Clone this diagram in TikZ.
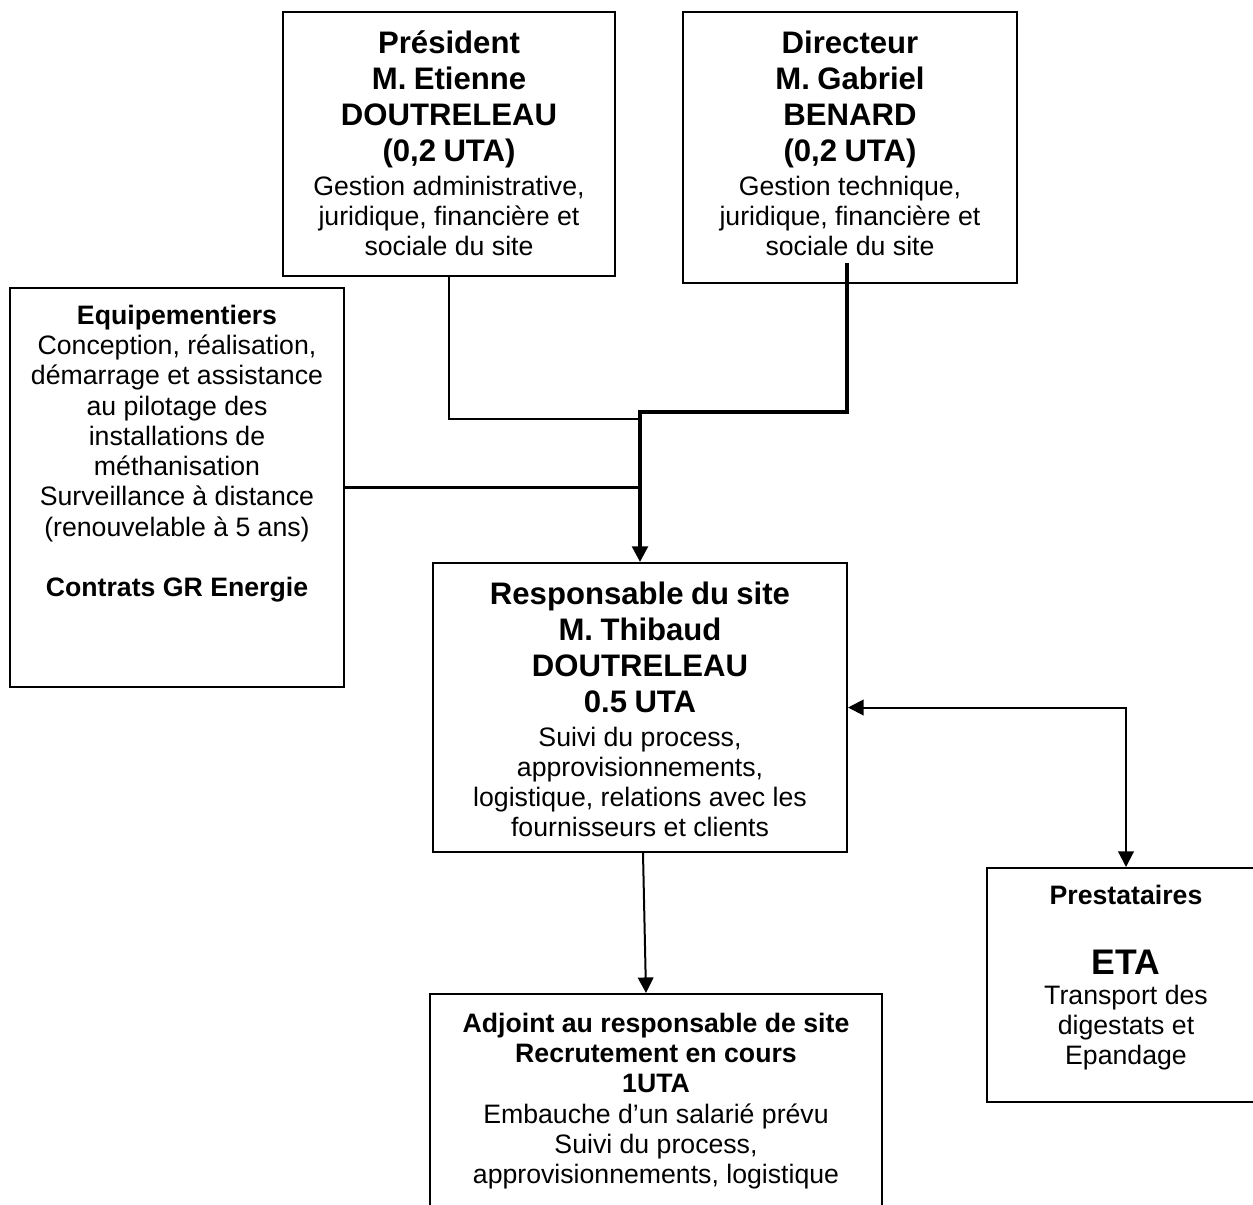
\documentclass[tikz,border=0pt]{standalone}
\usepackage{fontspec}
\setmainfont{Liberation Sans}
\usetikzlibrary{arrows.meta,fit,calc}
\newcommand\bigb{\fontsize{14}{16.2}\selectfont\bfseries}
\newcommand\nrm{\fontsize{12}{13.6}\selectfont}
\newcommand\fst{\rule{0pt}{20pt}}
\begin{document}
\begin{tikzpicture}[x=0.45pt,y=-0.45pt,
  box/.style={draw, line width=0.9pt, inner sep=0pt},
  txt/.style={anchor=north, inner sep=0pt, align=center, text width=200pt},
  tip/.style={-{Triangle[length=7pt,width=7pt]}},
  both/.style={{Triangle[length=7pt,width=7pt]}-{Triangle[length=7pt,width=7pt]}}]
\useasboundingbox (0,0) rectangle (1253,1205);
\fill[white] (0,0) rectangle (1253,1205);
\clip (0,0) rectangle (1253,1205);

% boxes
\node[box, fit={(283,12) (615,276)}] (pres) {};
\node[box, fit={(683,12) (1017,283)}] (dir) {};
\node[box, fit={(10,288) (344,687)}] (equip) {};
\node[box, fit={(433,563) (847,852)}] (resp) {};
\node[box, fit={(987,868) (1265,1102)}] (prest) {};
\node[box, fit={(430,994) (882,1240)}] (adj) {};

% texts
\node[txt] (prestxt) at (449,8.6) {{\bigb\fst Président\\ M. Etienne\\ DOUTRELEAU\\ (0,2 UTA)\par}\vspace{1.6pt}
{\nrm Gestion administrative,\\ juridique, financière et\\ sociale du site\par}};

\node[txt] (dirtxt) at (850,8.6) {{\bigb\fst Directeur\\ M. Gabriel\\ BENARD\\ (0,2 UTA)\par}\vspace{1.6pt}
{\nrm Gestion technique,\\ juridique, financière et\\ sociale du site\par}};

\node[txt] (equiptxt) at (177,279.6) {{\nrm\fst\textbf{Equipementiers}\\ Conception, réalisation,\\ démarrage et assistance\\ au pilotage des\\ installations de\\ méthanisation\\ Surveillance à distance\\ (renouvelable à 5 ans)\\[13.6pt] \textbf{Contrats GR Energie}\par}};

\node[txt] (resptxt) at (640,559.6) {{\bigb\fst Responsable du site\\ M. Thibaud\\ DOUTRELEAU\\ 0.5 UTA\par}\vspace{1.6pt}
{\nrm Suivi du process,\\ approvisionnements,\\ logistique, relations avec les\\ fournisseurs et clients\par}};

\node[txt] (presttxt) at (1126,859.6) {{\nrm\fst\textbf{Prestataires}\par}\vspace{13.5pt}
{\fontsize{16}{18}\selectfont\bfseries ETA\par}\vspace{0.4pt}
{\fontsize{12}{13.3}\selectfont Transport des\\ digestats et\\ Epandage\par}};

\node[txt] (adjtxt) at (656,987.6) {{\nrm\fst\textbf{Adjoint au responsable de site}\\ \textbf{Recrutement en cours}\\ \textbf{1UTA}\\ Embauche d’un salarié prévu\\ Suivi du process,\\ approvisionnements, logistique\par}};

% connectors
\coordinate (j1) at (640,419);
\coordinate (j2) at (640,412);
\coordinate (d0) at ($(dir.south)+(-3,-21)$);
\draw[line width=0.6pt] (pres.south) |- (j1);
\draw[line width=1.5pt, tip] (d0) |- (j2) -- (resp.north);
\draw[line width=1pt] (equip.east) -- (equip.east -| resp.north);
\draw[line width=0.9pt, tip] ($(resp.south)+(3,0)$) -- ($(adj.north)+(-10,0)$);
\draw[line width=0.9pt, both] (resp.east) -| (prest.north);
\end{tikzpicture}
\end{document}
